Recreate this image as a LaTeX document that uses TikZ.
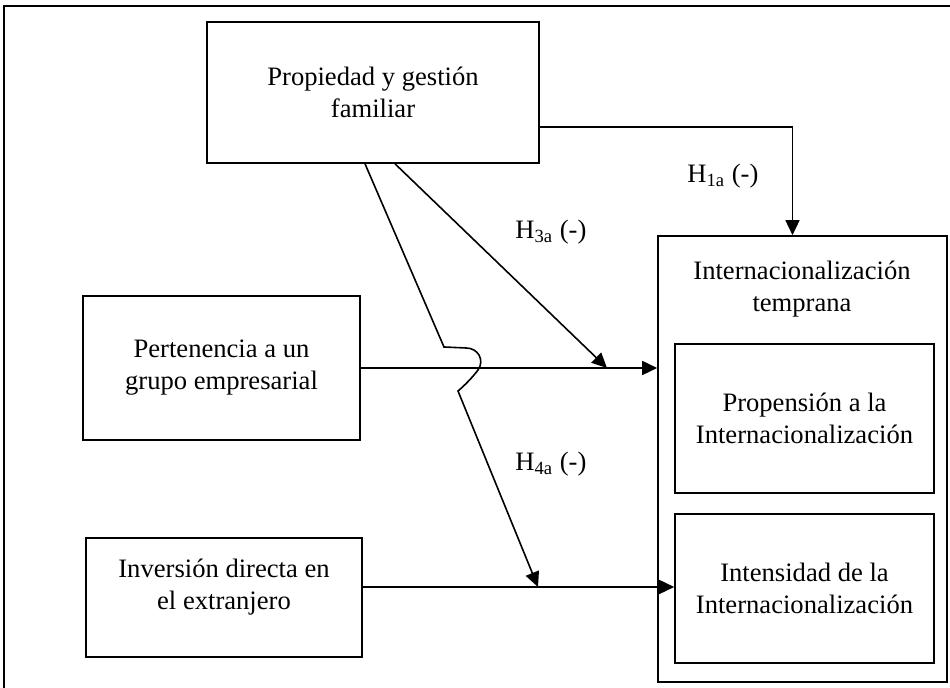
\documentclass[tikz,border=0pt]{standalone}
\usepackage{fontspec}
\setmainfont{Liberation Serif}
\usetikzlibrary{arrows.meta,calc}

\begin{document}
\begin{tikzpicture}[x=0.5pt, y=-0.5pt, font=\fontsize{13.3}{16}\selectfont,
  box/.style={draw, line width=0.8pt, align=center, inner sep=0pt},
  txt/.style={align=center, inner sep=0pt},
  arr/.style={-{Triangle[length=7.5pt,width=7pt]}, line width=0.8pt},
  hyp/.style={anchor=west, inner sep=0pt}]
\useasboundingbox (0,0) rectangle (950,688);
\draw[line width=0.9pt] (950,6) -- (4,6) -- (4,688);
% factores
\node[box, minimum width=166pt, minimum height=70.5pt] (prop) at (373,92.5) {Propiedad y gestión\\familiar};
\node[box, minimum width=138.5pt, minimum height=72pt] (pert) at (221.5,368) {Pertenencia a un\\grupo empresarial};
\node[box, minimum width=138pt, minimum height=59.5pt] (inv) at (224,597.5) {};
\node[txt] (invtxt) at (224,587) {Inversión directa en\\el extranjero};
% resultado
\node[box, minimum width=144.5pt, minimum height=223pt] (outer) at (802.5,459) {};
\node[txt] (outtxt) at (802,289) {Internacionalización\\temprana};
\node[box, minimum width=129.5pt, minimum height=74.5pt] (prope) at (804.5,418.5) {Propensión a la\\Internacionalización};
\node[box, minimum width=129.5pt, minimum height=74.5pt] (inten) at (804.5,588.5) {Intensidad de la\\Internacionalización};
% hipotesis
\node[hyp] (h1) at (687,176) {H\textsubscript{1a} (-)};
\node[hyp] (h3) at (515,232) {H\textsubscript{3a} (-)};
\node[hyp] (h4) at (515,464) {H\textsubscript{4a} (-)};
\coordinate (h3end) at (607,368);
\coordinate (h4end) at (538,587);
\draw[arr] ($(prop.east)+(0,34.5)$) -| ($(outer.north)+(-10,0)$);
\draw[arr] (pert.east) -- (pert.east -| outer.west);
\draw[arr] (invtxt.east -| inv.east) -- (invtxt.east -| inten.west);
\draw[arr] ($(prop.south)+(22,0)$) -- (h3end);
\draw[arr] ($(prop.south)+(-8,0)$) -- (444,347) -- (466,348) .. controls (478,348) and (485,360) .. (478,370) .. controls (472,378) and (464,386) .. (458,391) -- (h4end);
\end{tikzpicture}
\end{document}
